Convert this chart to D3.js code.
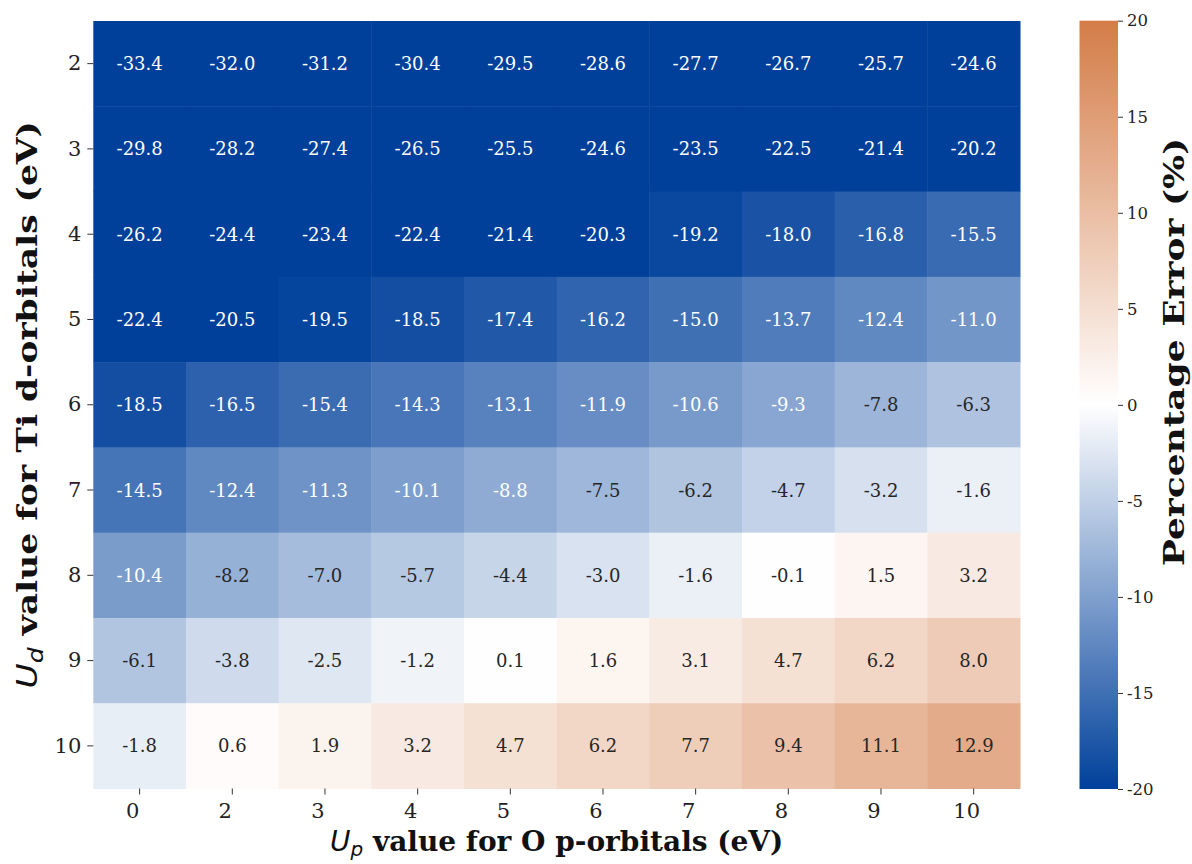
<!DOCTYPE html>
<html><head><meta charset="utf-8">
<script src="https://cdn.jsdelivr.net/npm/d3@7"></script>
<style>body{margin:0;background:#fff}svg{display:block}</style>
</head><body>
<svg id="c" width="1192" height="864"></svg>
<script>
const xCats = ["0","2","3","4","5","6","7","8","9","10"];
const yCats = ["2","3","4","5","6","7","8","9","10"];
const row2  = [-33.4,-32.0,-31.2,-30.4,-29.5,-28.6,-27.7,-26.7,-25.7,-24.6];
const row3  = [-29.8,-28.2,-27.4,-26.5,-25.5,-24.6,-23.5,-22.5,-21.4,-20.2];
const row4  = [-26.2,-24.4,-23.4,-22.4,-21.4,-20.3,-19.2,-18.0,-16.8,-15.5];
const row5  = [-22.4,-20.5,-19.5,-18.5,-17.4,-16.2,-15.0,-13.7,-12.4,-11.0];
const row6  = [-18.5,-16.5,-15.4,-14.3,-13.1,-11.9,-10.6,-9.3,-7.8,-6.3];
const row7  = [-14.5,-12.4,-11.3,-10.1,-8.8,-7.5,-6.2,-4.7,-3.2,-1.6];
const row8  = [-10.4,-8.2,-7.0,-5.7,-4.4,-3.0,-1.6,-0.1,1.5,3.2];
const row9  = [-6.1,-3.8,-2.5,-1.2,0.1,1.6,3.1,4.7,6.2,8.0];
const row10 = [-1.8,0.6,1.9,3.2,4.7,6.2,7.7,9.4,11.1,12.9];
const rows = [row2,row3,row4,row5,row6,row7,row8,row9,row10];
const cbTicks = [-20,-15,-10,-5,0,5,10,15,20];

const svg = d3.select("#c");
const L = 93.3, R = 1020, T = 21, B = 788.5;
const x = d3.scaleBand().domain(xCats).range([L,R]);
const y = d3.scaleBand().domain(yCats).range([T,B]);
const color = d3.scaleLinear().domain([-20,0,20]).range(["#00409b","#ffffff","#d47c48"]).clamp(true);

const cells = [];
rows.forEach((r,i)=>r.forEach((v,j)=>cells.push({xc:xCats[j],yc:yCats[i],v})));

svg.append("g").selectAll("rect").data(cells).join("rect")
  .attr("x",d=>x(d.xc)).attr("y",d=>y(d.yc))
  .attr("width",x.bandwidth()+0.5).attr("height",y.bandwidth()+0.5)
  .attr("fill",d=>color(d.v));

svg.append("g").selectAll("text").data(cells).join("text")
  .attr("x",d=>x(d.xc)+x.bandwidth()/2).attr("y",d=>y(d.yc)+y.bandwidth()/2)
  .attr("text-anchor","middle").attr("dominant-baseline","central")
  .attr("font-family","DejaVu Serif").attr("font-size",18)
  .attr("fill",d=>d.v < -8.5 ? "#ffffff" : "#262626")
  .text(d=>d.v.toFixed(1));

// axes
const xAxis = svg.append("g").attr("transform",`translate(0,${B})`)
  .call(d3.axisBottom(x).tickSize(6).tickPadding(6));
xAxis.select(".domain").remove();
xAxis.selectAll("line").attr("stroke","#333");
xAxis.selectAll("text").attr("font-family","DejaVu Serif").attr("font-size",21).attr("fill","#222").attr("dx",-7).attr("dy","0.85em");

const yAxis = svg.append("g").attr("transform",`translate(${L},0)`)
  .call(d3.axisLeft(y).tickSize(6).tickPadding(6));
yAxis.select(".domain").remove();
yAxis.selectAll("line").attr("stroke","#333");
yAxis.selectAll("text").attr("font-family","DejaVu Serif").attr("font-size",21).attr("fill","#222");

// axis titles
const xt = svg.append("text").attr("x",(L+R)/2).attr("y",851).attr("text-anchor","middle")
  .attr("font-family","DejaVu Serif").attr("font-size",28).attr("font-weight","bold").attr("fill","#111");
xt.append("tspan").attr("font-family","DejaVu Sans").attr("font-style","italic").attr("font-weight","normal").text("U");
xt.append("tspan").attr("font-family","DejaVu Sans").attr("font-style","italic").attr("font-weight","normal").attr("font-size",20).attr("dy",5).text("p");
xt.append("tspan").attr("dy",-5).text(" value for O p-orbitals (eV)");

const yt = svg.append("text").attr("transform",`translate(37,${(T+B)/2}) scale(0.82,1) rotate(-90)`).attr("text-anchor","middle")
  .attr("font-family","DejaVu Serif").attr("font-size",34.5).attr("font-weight","bold").attr("fill","#111");
yt.append("tspan").attr("font-family","DejaVu Sans").attr("font-style","italic").attr("font-weight","normal").text("U");
yt.append("tspan").attr("font-family","DejaVu Sans").attr("font-style","italic").attr("font-weight","normal").attr("font-size",25).attr("dy",7).text("d");
yt.append("tspan").attr("dy",-7).text(" value for Ti d-orbitals (eV)");

// colorbar
const cbL = 1079.5, cbW = 38.5, cbT = 20.7, cbB = 789;
const defs = svg.append("defs");
const grad = defs.append("linearGradient").attr("id","cbg").attr("x1",0).attr("y1",1).attr("x2",0).attr("y2",0);
d3.range(0,41).forEach(i=>{
  const v = -20 + i;
  grad.append("stop").attr("offset",(i/40)).attr("stop-color",color(v));
});
svg.append("rect").attr("x",cbL).attr("y",cbT).attr("width",cbW).attr("height",cbB-cbT).attr("fill","url(#cbg)");
const cbs = d3.scaleLinear().domain([-20,20]).range([cbB,cbT]);
const cbAxis = svg.append("g").attr("transform",`translate(${cbL+cbW},0)`)
  .call(d3.axisRight(cbs).tickValues(cbTicks).tickSize(5).tickPadding(4).tickFormat(d=>String(d)));
cbAxis.select(".domain").remove();
cbAxis.selectAll("line").attr("stroke","#333");
cbAxis.selectAll("text").attr("font-family","DejaVu Serif").attr("font-size",16.5).attr("fill","#222");
svg.append("text").attr("transform",`translate(1184,352) scale(0.8,1) rotate(-90)`).attr("text-anchor","middle")
  .attr("font-family","DejaVu Serif").attr("font-size",36).attr("font-weight","bold").attr("fill","#111")
  .text("Percentage Error (%)");
</script>
</body></html>
